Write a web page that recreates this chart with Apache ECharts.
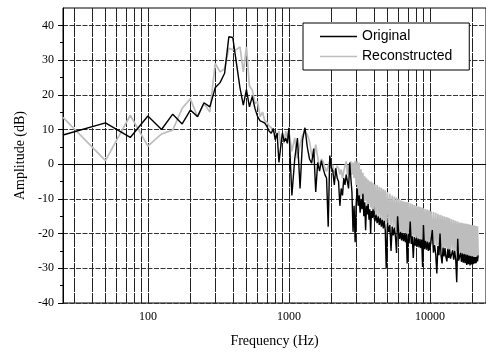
<!DOCTYPE html>
<html>
<head>
<meta charset="utf-8">
<style>
  html, body { margin: 0; padding: 0; background: #fff; }
  #chart { width: 486px; height: 352px; }
</style>
<script src="https://cdn.jsdelivr.net/npm/echarts@6/dist/echarts.min.js"></script>
</head>
<body>
<div id="chart"></div>
<script>
// Frequency bins (Hz): 25 Hz steps up to 1 kHz, 50 Hz steps to 3 kHz, then sparser samples
const freqHz = [
  25, 50, 75, 100, 125, 150, 175, 200, 225, 250, 275, 300, 325, 350, 375, 400, 425, 450, 475, 500,
  525, 550, 575, 600, 625, 650, 675, 700, 725, 750, 775, 800, 825, 850, 875, 900, 925, 950, 975, 1000,
  1050, 1100, 1150, 1200, 1250, 1300, 1350, 1400, 1450, 1500, 1550, 1600, 1650, 1700, 1750, 1800, 1850, 1900, 1950, 2000,
  2050, 2100, 2150, 2200, 2250, 2300, 2350, 2400, 2450, 2500, 2550, 2600, 2650, 2700, 2750, 2800, 2850, 2900, 2950, 3000,
  3050, 3100, 3150, 3200, 3250, 3300, 3350, 3400, 3450, 3500, 3550, 3600, 3650, 3700, 3750, 3800, 3850, 3900, 3950, 4000,
  4075, 4150, 4225, 4300, 4375, 4450, 4525, 4600, 4675, 4750, 4825, 4900, 5000,
  5100, 5200, 5300, 5400, 5500, 5600, 5700, 5800, 5900, 6000,
  6100, 6200, 6300, 6400, 6500, 6600, 6700, 6800, 6900, 7000,
  7125, 7250, 7375, 7500, 7625, 7750, 7875, 8000,
  8125, 8250, 8375, 8500, 8625, 8750, 8875, 9000,
  9150, 9300, 9450, 9600, 9750, 9900, 10000,
  10200, 10400, 10600, 10800, 11000, 11200, 11400, 11600, 11800, 12000,
  12200, 12400, 12600, 12800, 13000, 13200, 13400, 13600, 13800, 14000,
  14250, 14500, 14750, 15000, 15250, 15500, 15750, 16000,
  16250, 16500, 16750, 17000, 17250, 17500, 17750, 18000,
  18250, 18500, 18750, 19000, 19250, 19500, 19750, 20000,
  20250, 20500, 20750, 21000, 21250, 21500, 21750, 22000
];

// Original signal (dB)
const original = [
  8.4, 11.9, 7.7, 13.9, 10.0, 14.4, 11.6, 15.6, 13.7, 17.7, 16.5, 22.0, 23.5, 26.2, 36.7, 36.5, 29.0, 22.0, 17.0, 21.5,
  16.5, 19.5, 16.0, 13.7, 12.5, 12.2, 11.8, 10.8, 9.5, 8.9, 10.3, 7.0, 9.0, 0.5, 5.0, 9.0, 6.5, 7.5, 6.0, 10.5,
  -9.0, 1.5, 7.5, -7.0, 7.0, 10.5, 5.0, 1.5, 0.3, 4.5, -8.0, 0.5, -2.0, 1.0, -1.2, -3.0, -4.0, -18.0, 2.5, -1.0,
  -2.0, -6.0, -1.2, -4.0, -5.0, -12.0, -7.0, -9.0, -4.0, -6.0, -3.0, -5.0, -7.0, 0.5, -4.0, -8.0, -19.5, -12.0, -22.5, -11.5,
  -7.0, -12.0, -9.0, -14.0, -10.0, -13.0, -8.5, -15.0, -11.0, -19.0, -12.0, -14.5, -11.5, -16.0, -13.0, -20.0, -13.5, -15.5, -13.0, -15.0,
  -16.5, -14.5, -17.0, -15.0, -17.5, -15.5, -18.0, -16.0, -18.5, -16.3, -19.0, -30.0, -17.0,
  -19.5, -17.5, -25.0, -18.0, -20.5, -18.3, -21.0, -25.6, -15.0, -19.5,
  -21.5, -19.5, -22.0, -19.8, -22.2, -20.0, -22.5, -20.0, -28.6, -20.2,
  -22.8, -16.5, -23.0, -20.8, -27.0, -21.0, -23.5, -21.2,
  -23.8, -21.4, -24.0, -21.6, -24.2, -21.7, -29.6, -17.5,
  -24.5, -22.1, -24.6, -22.3, -25.0, -22.5, -24.8,
  -25.2, -19.0, -25.5, -23.3, -26.0, -31.5, -23.6, -26.2, -20.0, -26.3,
  -28.6, -24.0, -26.6, -24.2, -26.8, -28.0, -24.4, -27.0, -24.5, -27.2,
  -27.3, -24.8, -27.5, -25.0, -27.6, -34.0, -21.5, -27.8,
  -28.0, -25.5, -28.2, -25.7, -28.4, -25.8, -28.5, -26.0,
  -29.0, -26.1, -28.8, -26.3, -29.2, -26.4, -28.9, -26.6,
  -28.8, -26.7, -28.6, -26.8, -28.5, -26.6, -28.0, -26.3
];

// Reconstructed signal (dB)
const reconstructed = [
  13.5, 1.0, 14.1, 5.2, 8.7, 9.8, 16.1, 18.8, 13.7, 17.5, 15.0, 29.0, 26.6, 27.5, 33.4, 33.0, 33.0, 33.8, 26.6, 33.8,
  22.5, 21.4, 17.5, 18.0, 13.7, 15.0, 12.5, 12.0, 11.0, 10.5, 9.5, 10.0, 8.0, 9.5, 5.5, 8.5, 6.0, 9.5, 7.5, 9.5,
  3.7, 7.6, 1.7, 5.6, 8.5, 9.5, 8.5, 6.6, 2.7, 1.7, 5.6, 2.0, -1.2, 1.5, 0.8, -1.0, -2.1, -0.5, 0.8, -1.5,
  -0.2, -2.5, -2.1, -0.5, -1.2, -3.0, -1.5, -4.1, -2.0, -0.5, 0.8, -3.0, -0.2, -2.0, 0.8, -3.0, 0.5, -4.0, 1.0, -6.0,
  1.0, -9.0, 0.5, -10.0, -1.5, -9.5, -2.5, -11.0, -3.5, -10.5, -4.0, -12.0, -4.5, -11.5, -5.0, -12.5, -5.0, -13.0, -5.5, -13.5,
  -5.8, -14.5, -6.0, -15.0, -6.5, -15.5, -6.8, -16.0, -7.2, -16.3, -7.5, -16.8, -8.0,
  -17.2, -8.5, -17.6, -9.0, -18.0, -9.3, -18.5, -9.6, -19.0, -10.0,
  -19.3, -10.4, -19.5, -10.6, -19.7, -10.8, -19.8, -10.9, -20.0, -11.0,
  -20.2, -11.3, -20.5, -11.5, -20.8, -11.8, -21.0, -12.0,
  -21.3, -12.2, -21.5, -12.3, -21.6, -12.5, -21.8, -12.7,
  -22.0, -12.9, -22.2, -13.1, -22.4, -13.3, -22.7,
  -13.6, -23.0, -13.8, -23.2, -14.0, -23.4, -14.3, -23.6, -14.6, -23.8,
  -14.8, -24.0, -15.0, -24.1, -15.2, -24.3, -15.4, -24.4, -15.6, -24.6,
  -15.9, -24.8, -16.1, -24.9, -16.3, -25.0, -16.5, -25.2,
  -16.8, -25.4, -16.9, -25.6, -17.0, -25.7, -17.1, -25.9,
  -17.2, -26.0, -17.3, -26.2, -17.4, -26.3, -17.5, -26.5,
  -17.6, -26.6, -17.7, -26.7, -17.8, -26.6, -17.9, -26.4
];

// Axis ticks
const gridFreqs = [30, 40, 50, 60, 70, 80, 90, 100, 200, 300, 400, 500, 600, 700, 800, 900,
  1000, 2000, 3000, 4000, 5000, 6000, 7000, 8000, 9000, 10000, 20000];
const labelFreqs = [100, 1000, 10000];
const yMajor = [-40, -30, -20, -10, 0, 10, 20, 30, 40];
const yMinor = [-35, -25, -15, -5, 5, 15, 25, 35];

const SERIF = '"Liberation Serif", "Times New Roman", serif';
const SANS = '"Liberation Sans", Arial, sans-serif';

const chart = echarts.init(document.getElementById('chart'));

const xBase = { type: 'log', logBase: 10, min: 25, max: 25000, position: 'bottom', gridIndex: 0 };
const yBase = { type: 'value', min: -40, max: 45, position: 'left', gridIndex: 0 };

const option = {
  animation: false,
  backgroundColor: '#fff',
  grid: {
    left: 63, right: 0, top: 8, bottom: 49,
    show: true, borderColor: '#000', borderWidth: 1, backgroundColor: 'transparent',
    outerBoundsMode: 'none'
  },
  legend: {
    data: [
      { name: 'Original', icon: 'rect', itemStyle: { color: '#000' } },
      { name: 'Reconstructed', icon: 'rect', itemStyle: { color: '#bdbdbd' } }
    ],
    orient: 'vertical',
    left: 303, top: 23,
    padding: [6, 17, 6, 17],
    itemWidth: 37, itemHeight: 1.5, itemGap: 5,
    backgroundColor: '#fff', borderColor: '#000', borderWidth: 1, borderRadius: 0,
    textStyle: { fontFamily: SANS, fontSize: 14, lineHeight: 15, color: '#000' }
  },
  xAxis: [
    {
      ...xBase,
      axisLine: { show: true, lineStyle: { color: '#000', width: 1 } },
      axisTick: { show: true, customValues: gridFreqs, length: 3, lineStyle: { color: '#000' } },
      axisLabel: { show: false },
      splitLine: { show: true, lineStyle: { color: '#222', width: 1, type: [14, 1] } },
      minorTick: { show: false }, minorSplitLine: { show: false }
    },
    {
      ...xBase,
      axisLine: { show: false },
      axisTick: { show: true, customValues: labelFreqs, length: 5, lineStyle: { color: '#000' } },
      axisLabel: {
        show: true, customValues: labelFreqs, margin: 8,
        fontFamily: SERIF, fontSize: 12, color: '#000',
        formatter: v => String(Math.round(v))
      },
      splitLine: { show: false },
      name: 'Frequency (Hz)', nameLocation: 'middle', nameGap: 31,
      nameTextStyle: { fontFamily: SERIF, fontSize: 14, color: '#000' }
    }
  ],
  yAxis: [
    {
      ...yBase,
      axisLine: { show: true, lineStyle: { color: '#000', width: 1 } },
      axisTick: { show: true, customValues: yMajor, length: 5, lineStyle: { color: '#000' } },
      axisLabel: {
        show: true, customValues: yMajor, margin: 9,
        fontFamily: SERIF, fontSize: 12, color: '#000'
      },
      splitLine: { show: true, lineStyle: { color: '#333', width: 1, type: [5, 1.5] } },
      name: 'Amplitude (dB)', nameLocation: 'middle', nameGap: 33, nameRotate: 90,
      nameTextStyle: { fontFamily: SERIF, fontSize: 14, color: '#000' }
    },
    {
      ...yBase,
      axisLine: { show: false },
      axisTick: { show: true, customValues: yMinor, length: 3, lineStyle: { color: '#000' } },
      axisLabel: { show: false },
      splitLine: { show: false }
    }
  ],
  series: [
    {
      name: 'Original', type: 'line', xAxisIndex: 0, yAxisIndex: 0,
      data: freqHz.map((f, i) => [f, original[i]]),
      symbol: 'none', z: 3,
      lineStyle: { color: '#000', width: 1.4 },
      itemStyle: { color: '#000' }
    },
    {
      name: 'Reconstructed', type: 'line', xAxisIndex: 0, yAxisIndex: 0,
      data: freqHz.map((f, i) => [f, reconstructed[i]]),
      symbol: 'none', z: 2,
      lineStyle: { color: '#bdbdbd', width: 1.7 },
      itemStyle: { color: '#bdbdbd' }
    }
  ]
};

chart.setOption(option);
</script>
</body>
</html>
